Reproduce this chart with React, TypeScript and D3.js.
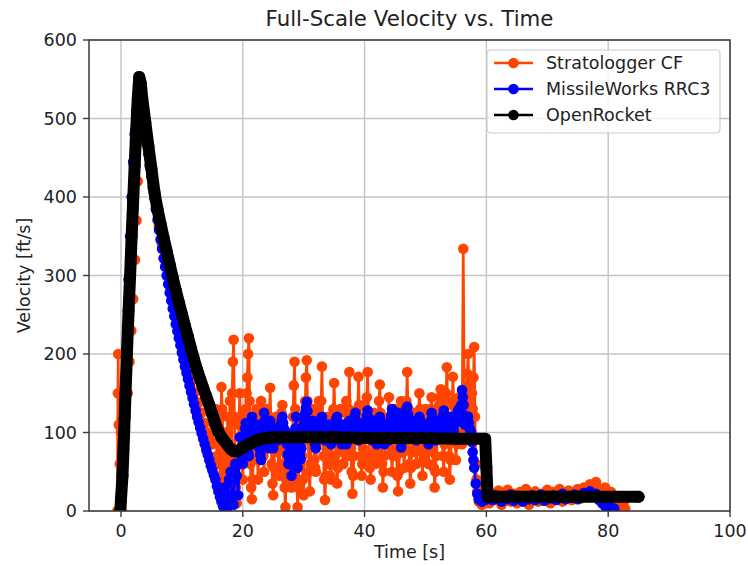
import React from 'react';
import * as d3 from 'd3';

type Pt = [number, number];

const xTicks = [0, 20, 40, 60, 80, 100];
const yTicks = [0, 100, 200, 300, 400, 500, 600];
const seriesNames = ['Stratologger CF', 'MissileWorks RRC3', 'OpenRocket'];
const seriesColors = ['#ff4500', '#0000ff', '#000000'];

// Stratologger CF: [time s, velocity ft/s]
const stratologger: Pt[] = [
  [-0.6, 0], [-0.5, 150], [-0.45, 200], [-0.35, 110], [-0.2, 60], [0, 100], [0.2, 40], [0.5, 80],
  [0.8, 120], [1.1, 150], [1.4, 190], [1.7, 230], [2.0, 270], [2.3, 320], [2.55, 370], [2.75, 420],
  [2.95, 470], [3.1, 510], [3.25, 540], [3.45, 525], [3.7, 500], [4.2, 470], [4.7, 440], [5.2, 412],
  [5.7, 386], [6.2, 362], [6.7, 340], [7.2, 320], [7.7, 300], [8.2, 282], [8.7, 264], [9.2, 247],
  [9.7, 230], [10.2, 214], [10.7, 198], [11.2, 182], [11.7, 167], [12.2, 152], [12.7, 138], [13.2, 125],
  [13.7, 112], [14.2, 100], [14.6, 90],
  [15, 85], [15.25, 110], [15.5, 130], [15.75, 70],
  [16, 60], [16.25, 100], [16.5, 158], [16.75, 90],
  [17, 20], [17.25, 75], [17.5, 120], [17.75, 60],
  [18, 40], [18.25, 150], [18.5, 218], [18.75, 70],
  [19, 10], [19.25, 60], [19.5, 150], [19.75, 95],
  [20, 40], [20.25, 85], [20.5, 130], [20.75, 170],
  [21, 220], [21.25, 60], [21.5, 15], [21.75, 70],
  [22, 110], [22.25, 130], [22.5, 40], [22.75, 90],
  [23, 140], [23.25, 100], [23.5, 50], [23.75, 110],
  [24, 125], [24.25, 80], [24.5, 157], [24.75, 60],
  [25, 20], [25.25, 90], [25.5, 120], [25.75, 75],
  [26, 45], [26.25, 110], [26.5, 135], [26.75, 60],
  [27, 5], [27.25, 70], [27.5, 100], [27.75, 55],
  [28, 30], [28.25, 120], [28.5, 190], [28.75, 80],
  [29, 5], [29.25, 60], [29.5, 115], [29.75, 70],
  [30, 20], [30.25, 140], [30.5, 192], [30.75, 90],
  [31, 25], [31.25, 100], [31.5, 130], [31.75, 65],
  [32, 50], [32.25, 110], [32.5, 140], [32.75, 95],
  [33, 184], [33.25, 70], [33.5, 14], [33.75, 80],
  [34, 120], [34.25, 60], [34.5, 40], [34.75, 100],
  [35, 163], [35.25, 90], [35.5, 35], [35.75, 75],
  [36, 130], [36.25, 95], [36.5, 60], [36.75, 110],
  [37, 140], [37.25, 70], [37.5, 177], [37.75, 80],
  [38, 22], [38.25, 70], [38.5, 120], [38.75, 90],
  [39, 171], [39.25, 100], [39.5, 45], [39.75, 80],
  [40, 135], [40.25, 110], [40.5, 177], [40.75, 70],
  [41, 40], [41.25, 90], [41.5, 125], [41.75, 60],
  [42, 75], [42.25, 120], [42.5, 161], [42.75, 90],
  [43, 30], [43.25, 70], [43.5, 110], [43.75, 85],
  [44, 145], [44.25, 100], [44.5, 50], [44.75, 90],
  [45, 130], [45.25, 70], [45.5, 25], [45.75, 80],
  [46, 140], [46.25, 100], [46.5, 55], [46.75, 110],
  [47, 177], [47.25, 90], [47.5, 35], [47.75, 75],
  [48, 125], [48.25, 95], [48.5, 60], [48.75, 105],
  [49, 150], [49.25, 110], [49.5, 45], [49.75, 85],
  [50, 130], [50.25, 90], [50.5, 60], [50.75, 115],
  [51, 145], [51.25, 80], [51.5, 30], [51.75, 70],
  [52, 115], [52.25, 135], [52.5, 155], [52.75, 90],
  [53, 50], [53.25, 120], [53.5, 183], [53.75, 100],
  [54, 40], [54.25, 95], [54.5, 171], [54.75, 110],
  [55, 65], [55.25, 100], [55.5, 145], [55.75, 120],
  [56, 85], [56.2, 334], [56.4, 110], [56.75, 150],
  [57, 200], [57.25, 120], [57.5, 170], [57.75, 130],
  [58, 209], [58.25, 60], [58.5, 25], [58.75, 12],
  [59, 30], [59.25, 8], [59.5, 25], [59.75, 12],
  [60, 20], [60.5, 10], [61, 22], [61.5, 14], [62, 26], [62.5, 8], [63, 18], [63.5, 27], [64, 12],
  [64.5, 22], [65, 10], [65.5, 24], [66, 15], [66.5, 28], [67, 8], [67.5, 20], [68, 25], [68.5, 12],
  [69, 22], [69.5, 16], [70, 27], [70.5, 10], [71, 24], [71.5, 18], [72, 28], [72.5, 12], [73, 20],
  [73.5, 26], [74, 14], [74.5, 22], [75, 28], [75.5, 16], [76, 30], [76.5, 22], [77, 34], [77.5, 26],
  [78, 37], [78.5, 28], [79, 20], [79.5, 30], [80, 14], [80.5, 24], [81, 10], [81.5, 16], [82, 6],
  [82.5, 10], [82.8, 3],
];

// Stratologger CF, readings between the ones above (noisy coast phase)
const stratologgerBetween: Pt[] = [
  [16.125, 120], [16.375, 40], [16.625, 130], [16.875, 50],
  [17.125, 100], [17.375, 30], [17.625, 90], [17.875, 140],
  [18.125, 60], [18.375, 190], [18.625, 120], [18.875, 30],
  [19.125, 40], [19.375, 110], [19.625, 120], [19.875, 60],
  [20.125, 70], [20.375, 110], [20.625, 150], [20.875, 200],
  [21.125, 140], [21.375, 30], [21.625, 40], [21.875, 95],
  [22.125, 120], [22.375, 80], [22.625, 65], [22.875, 120],
  [23.125, 120], [23.375, 70], [23.625, 80], [23.875, 130],
  [24.125, 100], [24.375, 120], [24.625, 110], [24.875, 35],
  [25.125, 55], [25.375, 110], [25.625, 100], [25.875, 55],
  [26.125, 85], [26.375, 125], [26.625, 95], [26.875, 30],
  [27.125, 40], [27.375, 85], [27.625, 75], [27.875, 40],
  [28.125, 80], [28.375, 160], [28.625, 130], [28.875, 40],
  [29.125, 30], [29.375, 90], [29.625, 95], [29.875, 40],
  [30.125, 90], [30.375, 170], [30.625, 140], [30.875, 50],
  [31.125, 60], [31.375, 120], [31.625, 95], [31.875, 55],
  [32.125, 85], [32.375, 125], [32.625, 115], [32.875, 140],
  [33.125, 120], [33.375, 40], [33.625, 45], [33.875, 100],
  [34.125, 90], [34.375, 45], [34.625, 70], [34.875, 130],
  [35.125, 125], [35.375, 60], [35.625, 55], [35.875, 105],
  [36.125, 110], [36.375, 75], [36.625, 90], [36.875, 125],
  [37.125, 100], [37.375, 130], [37.625, 125], [37.875, 50],
  [38.125, 45], [38.375, 95], [38.625, 105], [38.875, 130],
  [39.125, 135], [39.375, 70], [39.625, 60], [39.875, 110],
  [40.125, 120], [40.375, 145], [40.625, 120], [40.875, 55],
  [41.125, 65], [41.375, 110], [41.625, 90], [41.875, 70],
  [42.125, 100], [42.375, 140], [42.625, 125], [42.875, 60],
  [43.125, 50], [43.375, 90], [43.625, 95], [43.875, 115],
  [44.125, 120], [44.375, 75], [44.625, 70], [44.875, 110],
  [45.125, 100], [45.375, 45], [45.625, 50], [45.875, 110],
  [46.125, 120], [46.375, 75], [46.625, 85], [46.875, 140],
  [47.125, 130], [47.375, 60], [47.625, 55], [47.875, 100],
  [48.125, 110], [48.375, 75], [48.625, 85], [48.875, 125],
  [49.125, 130], [49.375, 75], [49.625, 65], [49.875, 110],
  [50.125, 110], [50.375, 75], [50.625, 90], [50.875, 130],
  [51.125, 110], [51.375, 55], [51.625, 50], [51.875, 95],
  [52.125, 125], [52.375, 145], [52.625, 120], [52.875, 70],
  [53.125, 85], [53.375, 150], [53.625, 140], [53.875, 70],
  [54.125, 65], [54.375, 135], [54.625, 140], [54.875, 90],
  [55.125, 85], [55.375, 125], [55.625, 130], [55.875, 100],
  [56.625, 130], [56.875, 175],
  [57.125, 160], [57.375, 145], [57.625, 150], [57.875, 170],
  [58.125, 120], [58.375, 40],
];

// MissileWorks RRC3: [time s, velocity ft/s]
const rrc3: Pt[] = [
  [0, 0], [0.25, 55], [0.5, 110], [0.75, 170], [1, 235], [1.25, 295], [1.5, 350], [1.75, 400], [2, 445],
  [2.25, 480], [2.5, 510], [2.75, 530], [3, 540], [3.25, 528], [3.5, 514], [3.75, 500], [4, 485],
  [4.25, 470], [4.5, 455], [4.75, 440], [5, 426], [5.25, 412], [5.5, 398], [5.75, 384], [6, 371],
  [6.25, 358], [6.5, 346], [6.75, 334], [7, 322], [7.25, 311], [7.5, 300], [7.75, 289], [8, 278],
  [8.25, 268], [8.5, 258], [8.75, 248], [9, 238], [9.25, 229], [9.5, 220], [9.75, 211], [10, 202],
  [10.25, 193], [10.5, 184], [10.75, 176], [11, 168], [11.25, 160], [11.5, 152], [11.75, 144], [12, 136],
  [12.25, 128], [12.5, 120], [12.75, 113], [13, 106], [13.25, 99], [13.5, 92], [13.75, 85], [14, 78],
  [14.25, 72], [14.5, 65], [14.75, 58],
  [15, 52], [15.25, 46], [15.5, 40], [15.75, 32],
  [16, 25], [16.25, 18], [16.5, 12], [16.75, 6],
  [17, 30], [17.25, 15], [17.5, 5], [17.75, 40],
  [18, 50], [18.25, 20], [18.5, 8], [18.75, 60],
  [19, 45], [19.25, 20], [19.5, 94], [19.75, 70],
  [20, 60], [20.25, 95], [20.5, 112], [20.75, 85],
  [21, 70], [21.25, 100], [21.5, 120], [21.75, 95],
  [22, 85], [22.25, 110], [22.5, 105], [22.75, 80],
  [23, 65], [23.25, 100], [23.5, 125], [23.75, 105],
  [24, 90], [24.25, 80], [24.5, 115], [24.75, 100],
  [25, 80], [25.25, 95], [25.5, 105], [25.75, 90],
  [26, 95], [26.25, 110], [26.5, 120], [26.75, 105],
  [27, 100], [27.25, 85], [27.5, 60], [27.75, 75],
  [28, 45], [28.25, 70], [28.5, 90], [28.75, 120],
  [29, 55], [29.25, 80], [29.5, 66], [29.75, 95],
  [30, 110], [30.25, 125], [30.5, 139], [30.75, 115],
  [31, 95], [31.25, 105], [31.5, 115], [31.75, 90],
  [32, 80], [32.25, 100], [32.5, 105], [32.75, 115],
  [33, 120], [33.25, 100], [33.5, 90], [33.75, 105],
  [34, 110], [34.25, 95], [34.5, 85], [34.75, 100],
  [35, 100], [35.25, 115], [35.5, 120], [35.75, 105],
  [36, 95], [36.25, 85], [36.5, 110], [36.75, 100],
  [37, 85], [37.25, 105], [37.5, 115], [37.75, 95],
  [38, 100], [38.25, 115], [38.5, 125], [38.75, 105],
  [39, 90], [39.25, 100], [39.5, 110], [39.75, 95],
  [40, 95], [40.25, 115], [40.5, 128], [40.75, 110],
  [41, 100], [41.25, 90], [41.5, 115], [41.75, 100],
  [42, 85], [42.25, 105], [42.5, 120], [42.75, 110],
  [43, 95], [43.25, 85], [43.5, 110], [43.75, 100],
  [44, 90], [44.25, 115], [44.5, 130], [44.75, 115],
  [45, 105], [45.25, 120], [45.5, 125], [45.75, 100],
  [46, 81], [46.25, 95], [46.5, 110], [46.75, 125],
  [47, 133], [47.25, 115], [47.5, 100], [47.75, 110],
  [48, 115], [48.25, 100], [48.5, 90], [48.75, 105],
  [49, 120], [49.25, 110], [49.5, 100], [49.75, 95],
  [50, 110], [50.25, 100], [50.5, 85], [50.75, 105],
  [51, 125], [51.25, 110], [51.5, 100], [51.75, 90],
  [52, 115], [52.25, 105], [52.5, 95], [52.75, 115],
  [53, 128], [53.25, 110], [53.5, 105], [53.75, 95],
  [54, 120], [54.25, 105], [54.5, 95], [54.75, 110],
  [55, 115], [55.25, 125], [55.5, 130], [55.75, 115],
  [56, 154], [56.25, 135], [56.5, 110], [56.75, 120],
  [57, 120], [57.25, 105], [57.5, 100], [57.75, 75],
  [58, 55], [58.25, 35], [58.5, 22], [58.75, 15],
  [59, 18], [59.25, 12], [59.5, 20], [59.75, 14],
  [60, 15], [60.5, 18], [61, 14], [61.5, 20], [62, 16], [62.5, 12], [63, 19], [63.5, 15], [64, 21],
  [64.5, 13], [65, 18], [65.5, 16], [66, 12], [66.5, 19], [67, 15], [67.5, 20], [68, 14], [68.5, 17],
  [69, 21], [69.5, 13], [70, 18], [70.5, 16], [71, 20], [71.5, 14], [72, 18], [72.5, 22], [73, 15],
  [73.5, 19], [74, 17], [74.5, 21], [75, 15], [75.5, 19], [76, 23], [76.5, 18], [77, 25], [77.5, 20],
  [78, 22], [78.5, 14], [79, 10], [79.5, 6], [80, 8], [80.5, 4], [81, 3],
];

// MissileWorks RRC3, readings between the ones above (coast phase)
const rrc3Between: Pt[] = [
  [20.125, 80], [20.375, 105], [20.625, 100], [20.875, 75],
  [21.125, 85], [21.375, 110], [21.625, 110], [21.875, 90],
  [22.125, 100], [22.375, 108], [22.625, 92], [22.875, 72],
  [23.125, 82], [23.375, 112], [23.625, 115], [23.875, 98],
  [24.125, 85], [24.375, 98], [24.625, 108], [24.875, 90],
  [25.125, 88], [25.375, 100], [25.625, 98], [25.875, 92],
  [26.125, 102], [26.375, 115], [26.625, 112], [26.875, 102],
  [27.125, 92], [27.375, 72], [27.625, 68], [27.875, 60],
  [28.125, 58], [28.375, 80], [28.625, 105], [28.875, 88],
  [29.125, 68], [29.375, 72], [29.625, 80], [29.875, 102],
  [30.125, 118], [30.375, 132], [30.625, 127], [30.875, 105],
  [31.125, 100], [31.375, 110], [31.625, 102], [31.875, 85],
  [32.125, 90], [32.375, 102], [32.625, 110], [32.875, 118],
  [33.125, 110], [33.375, 95], [33.625, 98], [33.875, 108],
  [34.125, 102], [34.375, 90], [34.625, 92], [34.875, 100],
  [35.125, 108], [35.375, 118], [35.625, 112], [35.875, 100],
  [36.125, 90], [36.375, 98], [36.625, 105], [36.875, 92],
  [37.125, 95], [37.375, 110], [37.625, 105], [37.875, 98],
  [38.125, 108], [38.375, 120], [38.625, 115], [38.875, 98],
  [39.125, 95], [39.375, 105], [39.625, 102], [39.875, 95],
  [40.125, 105], [40.375, 122], [40.625, 119], [40.875, 105],
  [41.125, 95], [41.375, 102], [41.625, 108], [41.875, 92],
  [42.125, 95], [42.375, 112], [42.625, 115], [42.875, 102],
  [43.125, 90], [43.375, 98], [43.625, 105], [43.875, 95],
  [44.125, 102], [44.375, 122], [44.625, 122], [44.875, 110],
  [45.125, 112], [45.375, 122], [45.625, 112], [45.875, 90],
  [46.125, 88], [46.375, 102], [46.625, 118], [46.875, 130],
  [47.125, 124], [47.375, 108], [47.625, 105], [47.875, 112],
  [48.125, 108], [48.375, 95], [48.625, 98], [48.875, 112],
  [49.125, 115], [49.375, 105], [49.625, 98], [49.875, 102],
  [50.125, 105], [50.375, 92], [50.625, 95], [50.875, 115],
  [51.125, 118], [51.375, 105], [51.625, 95], [51.875, 102],
  [52.125, 110], [52.375, 100], [52.625, 105], [52.875, 122],
  [53.125, 119], [53.375, 108], [53.625, 100], [53.875, 108],
  [54.125, 112], [54.375, 100], [54.625, 102], [54.875, 112],
  [55.125, 120], [55.375, 128], [55.625, 122], [55.875, 135],
  [56.125, 145], [56.375, 122], [56.625, 115], [56.875, 120],
  [57.125, 112], [57.375, 102], [57.625, 88], [57.875, 65],
];

// OpenRocket simulation: [time s, velocity ft/s]
const openRocket: Pt[] = [
  [-0.1, 0], [0, 15], [0.25, 45], [0.5, 95], [0.75, 150], [1, 205], [1.25, 255], [1.5, 300], [1.75, 350],
  [2, 395], [2.25, 440], [2.5, 485], [2.75, 525], [3, 553], [3.25, 545], [3.5, 525], [4, 495], [4.5, 465],
  [5, 436], [5.5, 406], [6, 384], [6.5, 366], [7, 348], [7.5, 331], [8, 314], [8.5, 297], [9, 281],
  [9.5, 266], [10, 251], [10.5, 236], [11, 222], [11.5, 207], [12, 193], [12.5, 180], [13, 168], [13.5, 157],
  [14, 146], [14.5, 135], [15, 123], [15.5, 111], [16, 101], [16.5, 94], [17, 89], [17.5, 84], [18, 79],
  [18.5, 76], [19, 76], [19.5, 78], [20, 81], [21, 85], [22, 89], [23, 92], [24, 93], [25, 94], [30, 94],
  [35, 94], [40, 93], [45, 93], [50, 93], [55, 92], [59.8, 92], [60, 55], [60.2, 18], [65, 18], [70, 18],
  [75, 18], [80, 18], [85, 18],
];

const byTime = (a: Pt, b: Pt) => a[0] - b[0];
const seriesData: Pt[][] = [
  [...stratologger, ...stratologgerBetween].sort(byTime),
  [...rrc3, ...rrc3Between].sort(byTime),
  openRocket,
];

export default function App() {
  const W = 748, H = 566;
  const left = 89, right = 730, top = 40, bottom = 511;
  const x = d3.scaleLinear().domain([-5.25, 100]).range([left, right]);
  const y = d3.scaleLinear().domain([0, 600]).range([bottom, top]);
  const line = d3.line<Pt>().x(d => x(d[0])).y(d => y(d[1]));
  const font = "'DejaVu Sans', sans-serif";
  const r = 5.3;

  return (
    <svg width={W} height={H} style={{ position: 'absolute', left: 0, top: 0, background: '#fff' }}
      fontFamily={font}>
      <defs>
        <clipPath id="plot">
          <rect x={left} y={top} width={right - left} height={bottom - top} />
        </clipPath>
      </defs>
      <rect x={0} y={0} width={W} height={H} fill="#fff" />
      {xTicks.map(t => (
        <line key={'gx' + t} x1={x(t)} x2={x(t)} y1={top} y2={bottom} stroke="#c4c4c4" strokeWidth={1.4} />
      ))}
      {yTicks.map(t => (
        <line key={'gy' + t} x1={left} x2={right} y1={y(t)} y2={y(t)} stroke="#c4c4c4" strokeWidth={1.4} />
      ))}
      <g clipPath="url(#plot)">
        {seriesData.map((data, i) => (
          <g key={'s' + i}>
            <path d={line(data) || ''} fill="none" stroke={seriesColors[i]}
              strokeWidth={i === 2 ? 12 : 2.7} strokeLinejoin="round" strokeLinecap="round" />
            {data.map((d, j) => (
              <circle key={j} cx={x(d[0])} cy={y(d[1])} r={i === 2 ? 6 : r} fill={seriesColors[i]} />
            ))}
          </g>
        ))}
      </g>
      <rect x={left} y={top} width={right - left} height={bottom - top} fill="none" stroke="#3a3a3a" strokeWidth={1.5} />
      {xTicks.map(t => (
        <g key={'xt' + t}>
          <line x1={x(t)} x2={x(t)} y1={bottom} y2={bottom + 6} stroke="#3a3a3a" strokeWidth={1.4} />
          <text x={x(t)} y={537} textAnchor="middle" fontSize={17.5} fill="#222">{t}</text>
        </g>
      ))}
      {yTicks.map(t => (
        <g key={'yt' + t}>
          <line x1={left - 6} x2={left} y1={y(t)} y2={y(t)} stroke="#3a3a3a" strokeWidth={1.4} />
          <text x={77} y={y(t) + 6.4} textAnchor="end" fontSize={17.5} fill="#222">{t}</text>
        </g>
      ))}
      <text x={(left + right) / 2} y={26} textAnchor="middle" fontSize={21.3} fill="#222">Full-Scale Velocity vs. Time</text>
      <text x={(left + right) / 2} y={558} textAnchor="middle" fontSize={17.5} fill="#222">Time [s]</text>
      <text transform={`translate(30, ${(top + bottom) / 2}) rotate(-90)`} textAnchor="middle" fontSize={17.5} fill="#222">Velocity [ft/s]</text>
      <rect x={487} y={50} width={233} height={83} rx={4} fill="#fff" fillOpacity={0.8} stroke="#cccccc" strokeWidth={1.2} />
      {seriesNames.map((name, i) => {
        const ly = 63 + i * 26;
        return (
          <g key={'lg' + i}>
            <line x1={494} x2={533} y1={ly} y2={ly} stroke={seriesColors[i]} strokeWidth={2.7} />
            <circle cx={513.5} cy={ly} r={r} fill={seriesColors[i]} />
            <text x={546} y={ly + 6.3} fontSize={17.5} fill="#222">{name}</text>
          </g>
        );
      })}
    </svg>
  );
}
